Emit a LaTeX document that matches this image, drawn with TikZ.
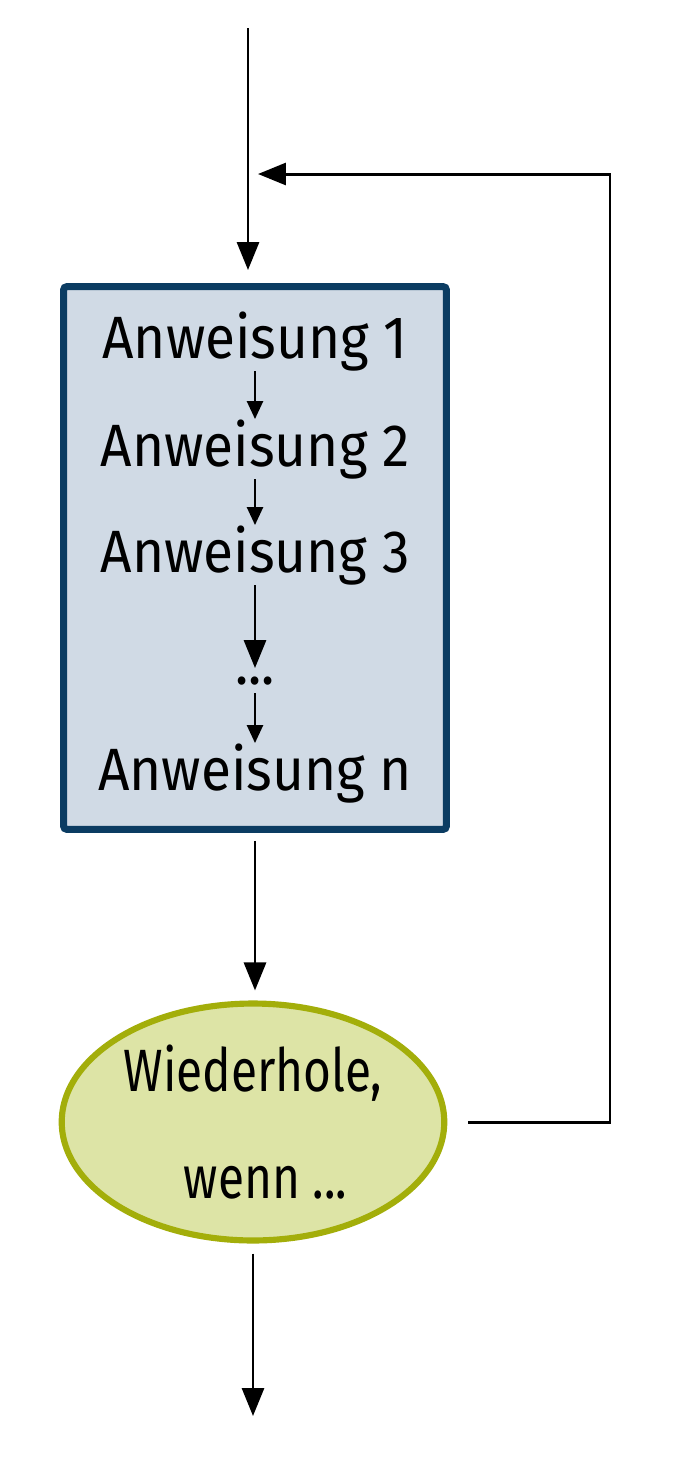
\documentclass[tikz,border=0pt]{standalone}
\usepackage{fontspec}
\newfontfamily\handfont[FakeStretch=0.92]{Fira Sans}
\newfontfamily\handfontn[FakeStretch=0.8]{Fira Sans}
\usetikzlibrary{arrows.meta,shapes.geometric}

\begin{document}
\begin{tikzpicture}[x=0.02cm, y=-0.02cm,
		line/.style={line width=1.7pt, color=color4},
		flow/.style={line, -{Triangle[length=0.56cm, width=0.44cm]}},
		step small/.style={line, line width=1.4pt, -{Triangle[length=0.36cm, width=0.32cm]}},
		stmt/.style={inner sep=0pt, anchor=base, font=\handfont\fontsize{34}{40}\selectfont}]
				\definecolor{color1}{HTML}{0B3C62} %% box border
				\definecolor{color2}{HTML}{D0DAE5} %% box fill
				\definecolor{color3}{HTML}{A3AE0A} %% ellipse border
				\definecolor{color5}{HTML}{DDE4A6} %% ellipse fill
				\definecolor{color4}{gray}{0.}
				\useasboundingbox (0,0) rectangle (678,1458);
				%% Nodes ------
				\node[draw=color1, fill=color2, line width=4pt, rounded corners=2pt,
					minimum width=7.66cm, minimum height=10.86cm] (block) at (255,558) {};
				\node[stmt] (a1) at (255,358) {Anweisung 1};
				\node[stmt] (a2) at (255,466) {Anweisung 2};
				\node[stmt] (a3) at (255,572) {Anweisung 3};
				\node[stmt] (dots) at (255,684) {...};
				\node[stmt] (an) at (255,790) {Anweisung n};
				\node[ellipse, draw=color3, fill=color5, line width=3.5pt, align=center,
					minimum width=7.6cm, minimum height=4.74cm,
					font=\handfontn\fontsize{34}{40}\selectfont] (cond) at (253,1122)
					{Wiederhole,\\[0.75cm]\hspace*{0.5cm}wenn ...};
				\coordinate (start) at (248,28);
				\coordinate (loopC) at (610,174);
				\coordinate (join) at (258,174);
				\coordinate (end) at (253,1416);
				%% Edges ---------
				\draw[flow, shorten >=0.26cm] (start) -- (start |- block.north);
				\draw[step small] (a1.south) -- (a2.north);
				\draw[step small] (a2.south) -- (a3.north);
				\draw[flow, shorten >=0.16cm] (a3.south) -- (dots.north);
				\draw[step small, shorten <=0.16cm] (dots.south) -- (an.north);
				\draw[flow, shorten <=0.16cm, shorten >=0.2cm] (block.south) -- (block.south |- cond.north);
				\draw[flow, shorten <=0.42cm] (cond.east) -| (loopC) -- (join);
				\draw[flow, shorten <=0.2cm] (cond.south) -- (end);
			\end{tikzpicture}
\end{document}
